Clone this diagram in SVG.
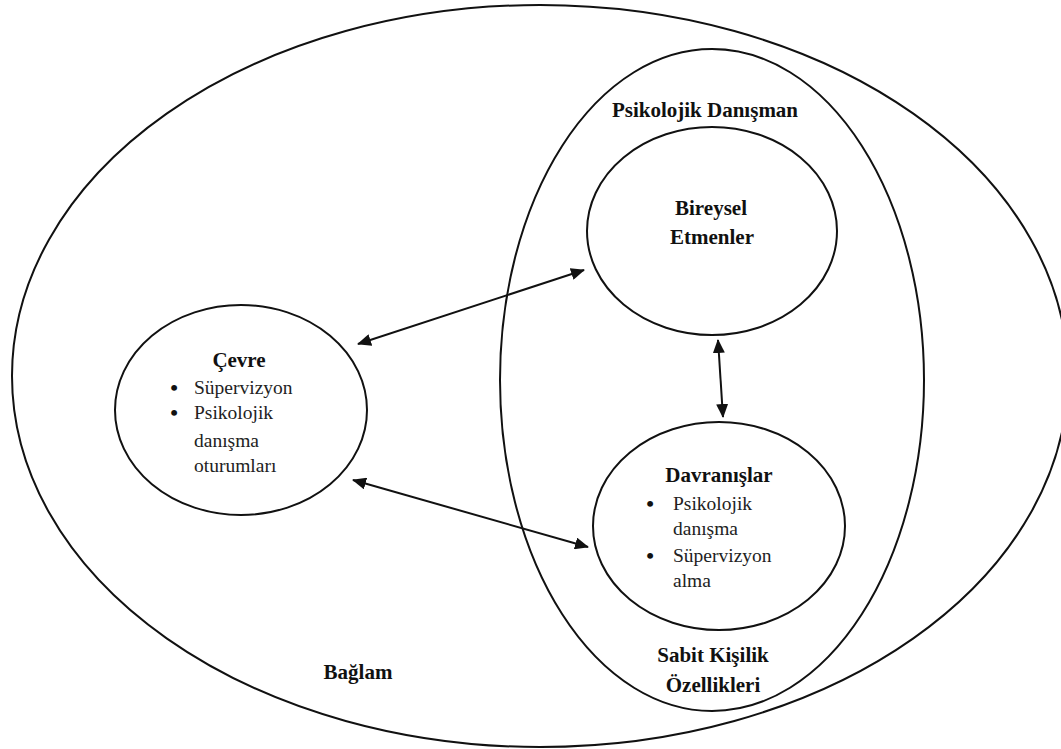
<svg xmlns="http://www.w3.org/2000/svg" width="1061" height="749" viewBox="0 0 1061 749">
<style>
.sh{fill:none;stroke:#111;stroke-width:2}
.b{font-family:"Liberation Serif","Times New Roman",serif;font-weight:bold;font-size:21px;fill:#111;text-anchor:middle}
.r{font-family:"Liberation Serif","Times New Roman",serif;font-size:19.5px;fill:#222}
.bul{font-family:"Liberation Serif","Times New Roman",serif;font-size:22px;font-weight:bold;fill:#111;text-anchor:middle}
.cn{stroke:#111;stroke-width:2;fill:none;marker-start:url(#ah);marker-end:url(#ah)}
</style>
<defs>
<marker id="ah" viewBox="0 0 14 12" refX="13" refY="6" markerWidth="14" markerHeight="12" markerUnits="userSpaceOnUse" orient="auto-start-reverse">
<path d="M0,0 L14,6 L0,12 Z" fill="#111"/>
</marker>
</defs>
<rect width="1061" height="749" fill="#fff"/>
<g id="baglam">
<ellipse class="sh" cx="540" cy="376" rx="528" ry="371"/>
<text class="b" x="358" y="679">Bağlam</text>
</g>
<g id="psikolojik-danisman">
<ellipse class="sh" cx="712" cy="380" rx="212" ry="331"/>
<text class="b" x="705" y="117">Psikolojik Danışman</text>
<text class="b" x="713" y="662">Sabit Kişilik</text>
<text class="b" x="713" y="692">Özellikleri</text>
</g>
<g id="bireysel-etmenler">
<ellipse class="sh" cx="712" cy="231" rx="125" ry="104"/>
<text class="b" x="711" y="215">Bireysel</text>
<text class="b" x="712" y="244">Etmenler</text>
</g>
<g id="cevre">
<ellipse class="sh" cx="241" cy="410" rx="126" ry="105"/>
<text class="b" x="239" y="367">Çevre</text>
<text class="bul" x="174" y="395">•</text>
<text class="r" x="194" y="394">Süpervizyon</text>
<text class="bul" x="174" y="420">•</text>
<text class="r" x="194" y="419">Psikolojik</text>
<text class="r" x="194" y="447">danışma</text>
<text class="r" x="194" y="472">oturumları</text>
</g>
<g id="davranislar">
<ellipse class="sh" cx="719" cy="526" rx="126" ry="104"/>
<text class="b" x="719" y="482">Davranışlar</text>
<text class="bul" x="650" y="511">•</text>
<text class="r" x="673" y="510">Psikolojik</text>
<text class="r" x="673" y="535">danışma</text>
<text class="bul" x="650" y="563">•</text>
<text class="r" x="673" y="562">Süpervizyon</text>
<text class="r" x="673" y="587">alma</text>
</g>
<g id="connectors">
<line class="cn" x1="358" y1="344" x2="584" y2="270"/>
<line class="cn" x1="353" y1="480" x2="588" y2="547"/>
<line class="cn" x1="718" y1="340" x2="723" y2="417"/>
</g>
</svg>
